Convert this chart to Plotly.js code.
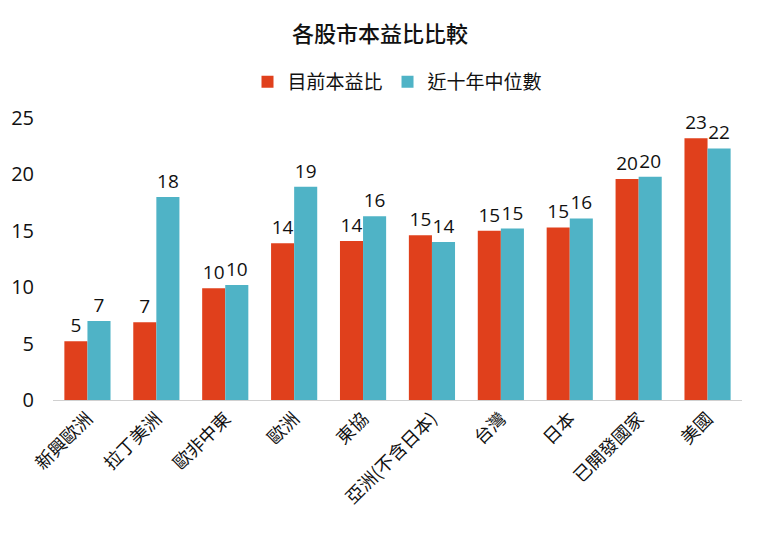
<!DOCTYPE html>
<html>
<head>
<meta charset="utf-8">
<script src="https://cdn.plot.ly/plotly-3.0.1.min.js"></script>
<style>html,body{margin:0;padding:0;background:#fff;}#chart{width:760px;height:538px;}</style>
</head>
<body>
<div id="chart"></div>
<script>
const categories = ["新興歐洲","拉丁美洲","歐非中東","歐洲","東協","亞洲(不含日本)","台灣","日本","已開發國家","美國"];
const currentPE = [5.2, 6.9, 9.9, 13.9, 14.1, 14.6, 15.0, 15.3, 19.6, 23.2];
const medianPE10y = [7.0, 18.0, 10.2, 18.9, 16.3, 14.0, 15.2, 16.1, 19.8, 22.3];
const seriesNames = ["目前本益比", "近十年中位數"];

const cjk = '"Noto Sans CJK TC", "Noto Sans", sans-serif';
const num = '"Open Sans", "Noto Sans", sans-serif';
const textFont = {family: num, size: 19, color: '#111'};

const traces = [
  {type:'bar', name: seriesNames[0], x: categories, y: currentPE,
   marker:{color:'#E0401C'}, texttemplate:'%{y:.0f}', textposition:'outside',
   textfont: textFont, cliponaxis:false, hoverinfo:'x+y'},
  {type:'bar', name: seriesNames[1], x: categories, y: medianPE10y,
   marker:{color:'#4FB3C6'}, texttemplate:'%{y:.0f}', textposition:'outside',
   textfont: textFont, cliponaxis:false, hoverinfo:'x+y'}
];

const layout = {
  width:760, height:538,
  margin:{l:53, r:18, t:118, b:138},
  paper_bgcolor:'#fff', plot_bgcolor:'#fff',
  font:{family:cjk, color:'#111'},
  title:{text:'各股市本益比比較', x:0.5, xanchor:'center', y:0.937, yanchor:'middle',
         font:{family:cjk, size:22, color:'#111', weight:500}},
  showlegend:true,
  legend:{orientation:'h', x:0.5, xanchor:'center', y:1.128, yanchor:'middle',
          font:{family:cjk, size:19, color:'#111'}, itemwidth:30, traceorder:'normal'},
  barmode:'group', bargap:0.33, bargroupgap:0,
  xaxis:{type:'category', tickangle:-45, showgrid:false, showline:true,
         linecolor:'#d0d0d0', linewidth:1, ticks:'',
         tickfont:{family:cjk, size:18, color:'#111'}},
  yaxis:{range:[0,25], dtick:5, tick0:0, showgrid:false, zeroline:false, showline:false,
         ticks:'', ticklabelstandoff:18,
         tickfont:{family:num, size:20, color:'#111'}}
};

Plotly.newPlot('chart', traces, layout, {displayModeBar:false, staticPlot:true});
</script>
</body>
</html>
